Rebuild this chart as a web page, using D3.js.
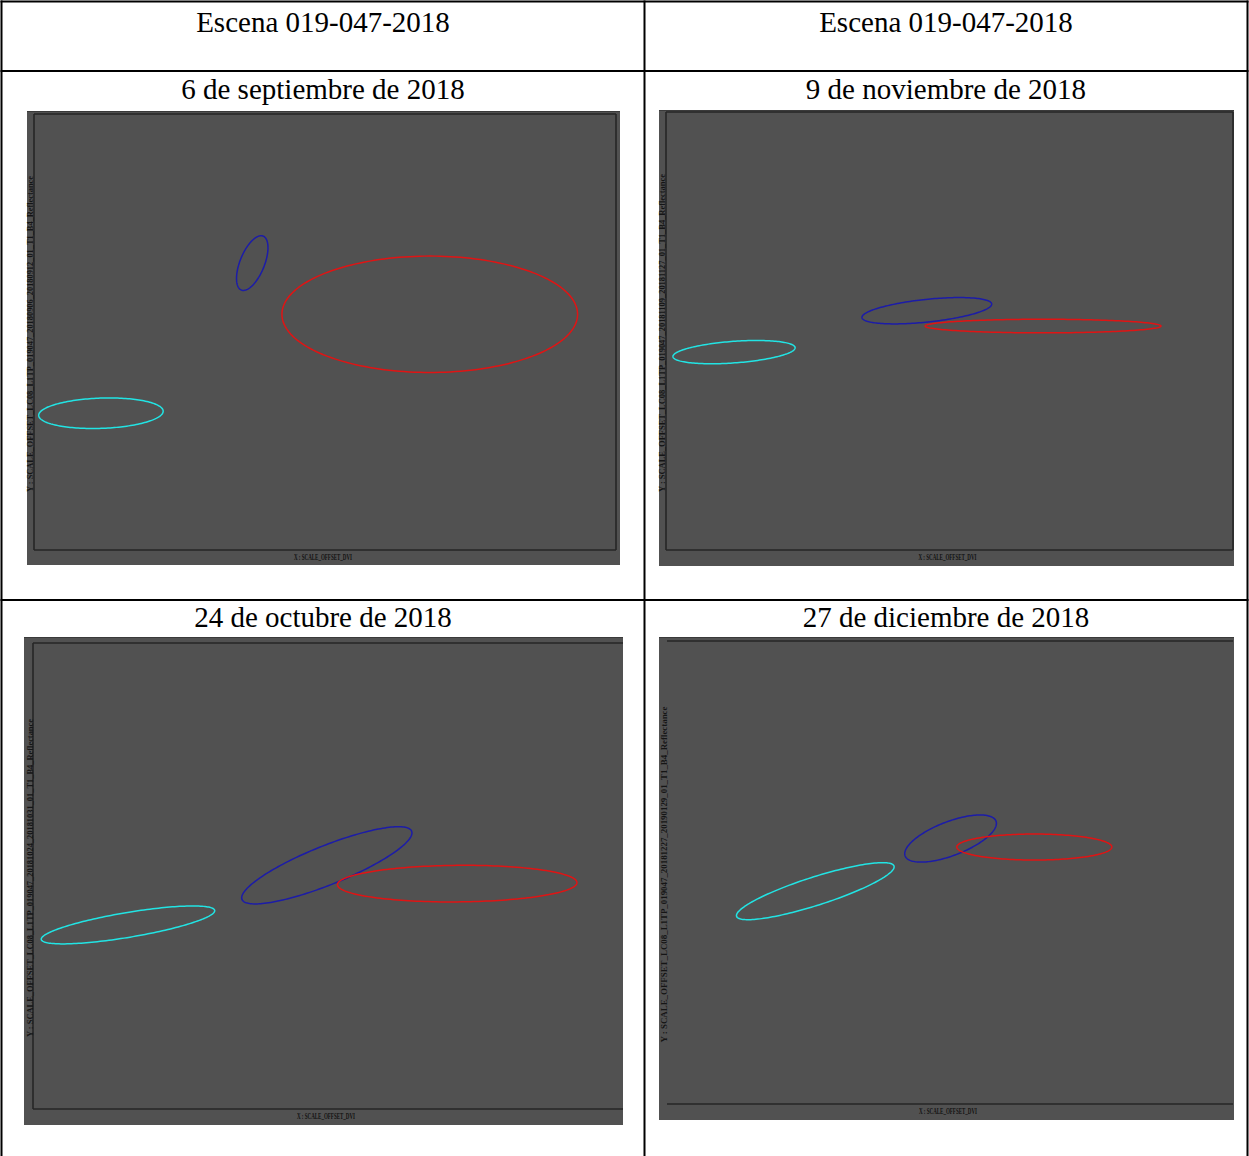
<!DOCTYPE html>
<html>
<head>
<meta charset="utf-8">
<script src="https://cdn.jsdelivr.net/npm/d3@7"></script>
<style>
  html, body { margin: 0; padding: 0; background: #ffffff; }
  svg { display: block; }
</style>
</head>
<body>
<svg id="fig" width="1249" height="1156"></svg>
<script>
// Scene title shown in both header cells
const sceneTitles = ["Escena 019-047-2018", "Escena 019-047-2018"];

// Acquisition dates, one per scatter panel (row-major order)
const panelDates = [
  "6 de septiembre de 2018",
  "9 de noviembre de 2018",
  "24 de octubre de 2018",
  "27 de diciembre de 2018"
];

// Axis titles of each scatter panel
const xLabel = "X : SCALE_OFFSET_DVI";
const yLabels = [
  "Y : SCALE_OFFSET_LC08_L1TP_019047_20180906_20180912_01_T1_B4_Reflectance",
  "Y : SCALE_OFFSET_LC08_L1TP_019047_20181109_20181127_01_T1_B4_Reflectance",
  "Y : SCALE_OFFSET_LC08_L1TP_019047_20181024_20181031_01_T1_B4_Reflectance",
  "Y : SCALE_OFFSET_LC08_L1TP_019047_20181227_20190129_01_T1_B4_Reflectance"
];

// Class ellipses per panel: [centerX, centerY, semiMajor, semiMinor, angleDeg]
// (x in 0-100 units, y in the same units, angle counter-clockwise)
const cyanEllipses = [
  [11.5, 23.5, 10.7, 2.6, 2],
  [12.0, 34.9, 10.8, 1.9, 4.2],
  [16.1, 31.2, 14.9, 2.1, 9.5],
  [26.2, 37.6, 14.6, 2.5, 17.7]
];
const blueEllipses = [
  [37.5, 49.3, 5.0, 2.1, 68],
  [46.0, 42.2, 11.5, 2.0, 6],
  [49.8, 41.3, 15.5, 3.3, 21.9],
  [50.1, 46.9, 8.6, 3.0, 21]
];
const redEllipses = [
  [68.0, 40.5, 25.4, 10.0, 0],
  [66.5, 39.5, 20.8, 1.2, 0],
  [71.9, 38.2, 20.3, 3.1, 0.5],
  [64.9, 45.4, 13.7, 2.3, 0]
];

const seriesColors = { cyan: "#22e4e4", blue: "#1c1ca8", red: "#e01414" };

// Page layout: table grid and panel placement
const table = { left: 1.5, right: 1247.5, top: 1.5, rows: [1.5, 71, 600], mid: 644.5, bottom: 1160 };
const panels = [
  { bg: [27, 111, 620, 565], frame: [34, 114, 616, 550], sides: "all", col: 0, row: 1, yText: 32.5, yLen: 316 },
  { bg: [659, 110, 1234, 566], frame: [666, 112, 1233, 550], sides: "all", col: 1, row: 1, yText: 664.5, yLen: 318 },
  { bg: [24, 637, 623, 1125], frame: [33, 643, 623, 1109], sides: "lbt", col: 0, row: 2, yText: 32.5, yLen: 318 },
  { bg: [659, 637, 1234, 1120], frame: [667, 641, 1233, 1104], sides: "tb", col: 1, row: 2, yText: 666.5, yLen: 336 }
];

const svg = d3.select("#fig");
const serif = "'Liberation Serif', 'Times New Roman', serif";

// Table grid
const grid = svg.append("g").attr("stroke", "#000").attr("stroke-width", 2).attr("fill", "none");
table.rows.forEach(y => grid.append("line").attr("x1", table.left - 1).attr("x2", table.right + 1).attr("y1", y).attr("y2", y));
[table.left, table.mid, table.right].forEach(x => grid.append("line").attr("x1", x).attr("x2", x).attr("y1", table.top - 1).attr("y2", table.bottom));

// Header cells
const colCenters = [(table.left + table.mid) / 2, (table.mid + table.right) / 2];
sceneTitles.forEach((t, i) => {
  svg.append("text").attr("x", colCenters[i]).attr("y", 32)
    .attr("text-anchor", "middle").attr("font-family", serif).attr("font-size", 29)
    .attr("fill", "#000").text(t);
});

const captionBaselines = [99, 627];

panels.forEach((p, i) => {
  const g = svg.append("g");
  const [bx0, by0, bx1, by1] = p.bg;
  const [fx0, fy0, fx1, fy1] = p.frame;

  // Date caption
  svg.append("text").attr("x", colCenters[p.col]).attr("y", captionBaselines[p.row - 1])
    .attr("text-anchor", "middle").attr("font-family", serif).attr("font-size", 29)
    .attr("fill", "#000").text(panelDates[i]);

  // Plot background
  g.append("rect").attr("x", bx0).attr("y", by0).attr("width", bx1 - bx0).attr("height", by1 - by0)
    .attr("fill", "#515151");
  g.append("line").attr("x1", bx0).attr("x2", bx1).attr("y1", by0 + 0.5).attr("y2", by0 + 0.5)
    .attr("stroke", "#3a3a3a").attr("stroke-width", 1);

  // Isotropic scales over the plotting frame
  const W = fx1 - fx0, H = fy1 - fy0;
  const x = d3.scaleLinear().domain([0, 100]).range([fx0, fx1]);
  const y = d3.scaleLinear().domain([0, 100 * H / W]).range([fy1, fy0]);

  // Frame lines
  const fr = g.append("g").attr("stroke", "#262626").attr("stroke-width", 1.6).attr("fill", "none");
  if (p.sides === "all" || p.sides.includes("l")) fr.append("line").attr("x1", fx0).attr("x2", fx0).attr("y1", fy0).attr("y2", fy1);
  if (p.sides === "all") fr.append("line").attr("x1", fx1).attr("x2", fx1).attr("y1", fy0).attr("y2", fy1);
  if (p.sides === "all" || p.sides.includes("t")) fr.append("line").attr("x1", fx0).attr("x2", fx1).attr("y1", fy0).attr("y2", fy0);
  if (p.sides === "all" || p.sides.includes("b")) fr.append("line").attr("x1", fx0).attr("x2", fx1).attr("y1", fy1).attr("y2", fy1);

  // Axis titles
  const fx = (fx0 + fx1) / 2, fy = (fy0 + fy1) / 2;
  g.append("text").attr("x", fx - 2).attr("y", fy1 + 10)
    .attr("text-anchor", "middle").attr("font-family", serif).attr("font-size", 7.5)
    .attr("font-weight", "bold").attr("fill", "#111")
    .attr("textLength", 58).attr("lengthAdjust", "spacingAndGlyphs").text(xLabel);
  g.append("text").attr("transform", `translate(${p.yText},${fy + 2}) rotate(-90)`)
    .attr("text-anchor", "middle").attr("font-family", serif).attr("font-size", 8)
    .attr("font-weight", "bold").attr("fill", "#151515")
    .attr("textLength", p.yLen).attr("lengthAdjust", "spacingAndGlyphs").text(yLabels[i]);

  // Ellipses
  const line = d3.line().x(d => x(d[0])).y(d => y(d[1])).curve(d3.curveLinearClosed);
  const ellipsePoints = ([cx, cy, a, b, ang]) => {
    const t = ang * Math.PI / 180, c = Math.cos(t), s = Math.sin(t);
    return d3.range(0, 2 * Math.PI, Math.PI / 90).map(u => {
      const ex = a * Math.cos(u), ey = b * Math.sin(u);
      return [cx + ex * c - ey * s, cy + ex * s + ey * c];
    });
  };
  [["cyan", cyanEllipses], ["blue", blueEllipses], ["red", redEllipses]].forEach(([k, arr]) => {
    g.append("path").attr("d", line(ellipsePoints(arr[i])))
      .attr("fill", "none").attr("stroke", seriesColors[k]).attr("stroke-width", 1.5);
  });
});
</script>
</body>
</html>
